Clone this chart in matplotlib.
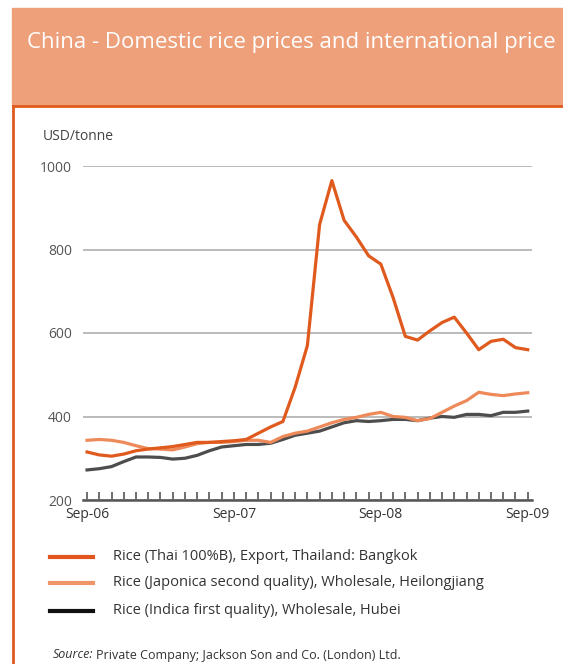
import matplotlib
matplotlib.use("Agg")
import matplotlib.pyplot as plt
from matplotlib.patches import Rectangle
from matplotlib.lines import Line2D
import numpy as np

# monthly prices, Sep-06 .. Sep-09 (USD/tonne)
months = list(range(37))
thai = [315, 308, 305, 310, 318, 322, 325, 328, 333, 338, 338, 340,
        342, 345, 360, 375, 388, 470, 570, 860, 965, 870, 830, 785,
        765, 685, 592, 583, 605, 625, 638, 600, 560, 580, 585, 565, 560]
japonica = [343, 345, 343, 338, 330, 323, 322, 320, 327, 335, 338, 338,
            340, 343, 343, 338, 352, 360, 365, 375, 385, 393, 398, 405,
            410, 400, 398, 390, 395, 410, 425, 438, 458, 453, 450, 454, 457]
indica = [272, 275, 280, 292, 303, 303, 302, 298, 300, 307, 318, 327,
          330, 333, 333, 336, 345, 355, 360, 365, 375, 385, 390, 388,
          390, 393, 393, 390, 396, 400, 398, 405, 405, 402, 410, 410, 413]
xtick_pos = [0, 12, 24, 36]
xtick_labels = ["Sep-06", "Sep-07", "Sep-08", "Sep-09"]
yticks = [200, 400, 600, 800, 1000]
series_names = ["Rice (Thai 100%B), Export, Thailand: Bangkok",
                "Rice (Japonica second quality), Wholesale, Heilongjiang",
                "Rice (Indica first quality), Wholesale, Hubei"]

W, H = 563, 664
plt.rcParams['font.family'] = ['Open Sans', 'DejaVu Sans']
fig = plt.figure(figsize=(W / 100, H / 100), dpi=100)


def fx(px):
    return px / W


def fy(py):
    return 1 - py / H


# header band and frame
fig.patches.append(Rectangle((fx(12), fy(105)), fx(W - 12), fy(8) - fy(105),
                             transform=fig.transFigure, color="#eda07a", zorder=0))
fig.add_artist(Line2D([fx(13), fx(W)], [fy(106), fy(106)], color="#e05a1e", lw=2))
fig.add_artist(Line2D([fx(13), fx(13)], [fy(106), fy(H)], color="#e05a1e", lw=2))
fig.text(fx(27), fy(48), "China - Domestic rice prices and international price",
         color="white", fontsize=16, va="baseline", ha="left")

ax = fig.add_axes([fx(83), fy(500), fx(532 - 83), fy(166) - fy(500)])
ax.plot(months, indica, color="#4d4d4d", lw=2.3, solid_joinstyle="round")
ax.plot(months, japonica, color="#ee8a5a", lw=2.3, solid_joinstyle="round")
ax.plot(months, thai, color="#e05a1e", lw=2.3, solid_joinstyle="round")

ax.set_xlim(-0.33, 36.35)
ax.set_ylim(200, 1000)
for s in ["top", "right", "left"]:
    ax.spines[s].set_visible(False)
ax.spines["bottom"].set_color("#555555")
ax.spines["bottom"].set_linewidth(1.8)
ax.set_yticks(yticks)
ax.yaxis.grid(True, color="#bbbbbb", lw=1.4)
ax.set_axisbelow(True)
ax.tick_params(axis="y", length=0, pad=8, labelsize=10, labelcolor="#555555")
ax.set_xticks(months, minor=True)
ax.set_xticks(xtick_pos)
ax.set_xticklabels(xtick_labels)
ax.tick_params(axis="x", which="both", direction="in", length=6, width=1.2,
               color="#555555", labelsize=10, labelcolor="#333333", pad=5)
fig.text(fx(43), fy(137), "USD/tonne", fontsize=10, color="#444444", va="center")

# legend
leg_colors = ["#e0561e", "#f0956a", "#111111"]
leg_y = [557, 583, 611]
for name, c, y in zip(series_names, leg_colors, leg_y):
    fig.add_artist(Line2D([fx(50), fx(93)], [fy(y), fy(y)], color=c, lw=3))
    fig.text(fx(113), fy(y), name, fontsize=10.5, color="#333333", va="center")

fig.text(fx(53), fy(655), "Source:", fontsize=9, style="italic", color="#333333", va="center")
fig.text(fx(96), fy(655), "Private Company; Jackson Son and Co. (London) Ltd.",
         fontsize=9, color="#333333", va="center")

fig.savefig("out.png", dpi=100)
